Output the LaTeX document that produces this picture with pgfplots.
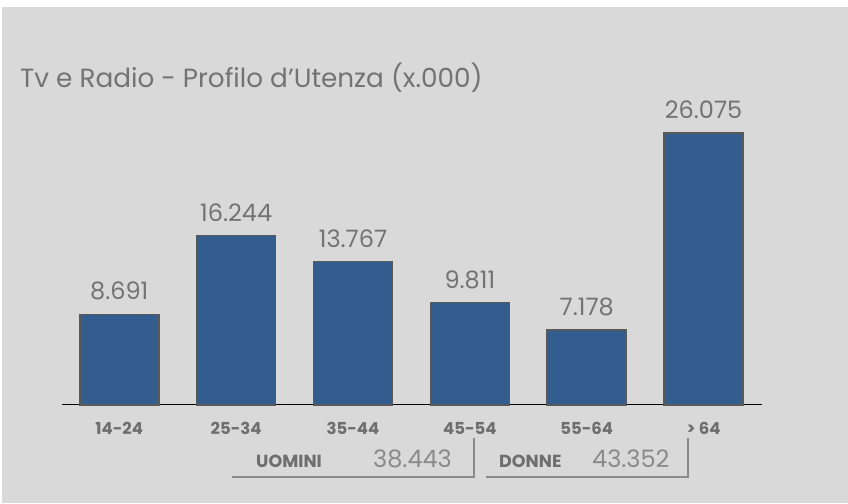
\documentclass[border=0pt]{standalone}
\usepackage{pgfplots}
\pgfplotsset{compat=1.18}
\usepackage{fontspec}
\setmainfont{Poppins}
\definecolor{bgc}{HTML}{D9D9D9}
\definecolor{barc}{HTML}{345D8F}
\definecolor{edgec}{HTML}{595959}
\definecolor{txtc}{HTML}{737373}
\definecolor{lblc}{HTML}{6E6E6E}
\definecolor{annc}{HTML}{8A8A8A}
\begin{document}
\begin{tikzpicture}[x=1pt,y=1pt]
\fill[white] (0,0) rectangle (848,503);
\fill[bgc] (2,0) rectangle (848,496);
\node[anchor=base west,text=txtc,font=\fontsize{26.3}{29}\selectfont,inner sep=0pt] at (20,415) {Tv e Radio - Profilo d'Utenza (x.000)};
\begin{axis}[
  at={(62pt,98pt)}, anchor=south west,
  scale only axis, width=700pt, height=313pt,
  xmin=-0.49, xmax=5.5, ymin=0, ymax=30000,
  axis y line=none, axis x line*=bottom,
  x axis line style={black, line width=1pt, -},
  xtick={0,...,5}, xticklabels={14-24,25-34,35-44,45-54,55-64,> 64},
  major tick length=0pt,
  xticklabel style={text=lblc, font=\bfseries\fontsize{16.5}{18}\selectfont, yshift=-14pt},
  ytick=\empty,
  clip=false,
  ybar, bar width=0.676,
  nodes near coords,
  point meta=explicit symbolic,
  every node near coord/.append style={text=txtc, font=\fontsize{24}{26}\selectfont, yshift=10pt},
]
\addplot[fill=barc, draw=edgec, line width=1.6pt] table[meta=lab] {
x y lab
0 8691 8.691
1 16244 16.244
2 13767 13.767
3 9811 9.811
4 7178 7.178
5 26075 26.075
};
\end{axis}
\draw[annc, line width=1.5pt] (232,26) -- (474,26) -- (474,65);
\draw[annc, line width=1.5pt] (486,26) -- (688,26) -- (688,65);
\node[anchor=base west, inner sep=0pt, text=lblc, font=\bfseries\fontsize{17.5}{19}\selectfont] at (256,35) {UOMINI};
\node[anchor=base west, inner sep=0pt, text=annc, font=\fontsize{24}{26}\selectfont] at (373,35) {38.443};
\node[anchor=base west, inner sep=0pt, text=lblc, font=\bfseries\fontsize{17.5}{19}\selectfont] at (499,35) {DONNE};
\node[anchor=base west, inner sep=0pt, text=annc, font=\fontsize{24}{26}\selectfont] at (592,35) {43.352};
\end{tikzpicture}
\end{document}
